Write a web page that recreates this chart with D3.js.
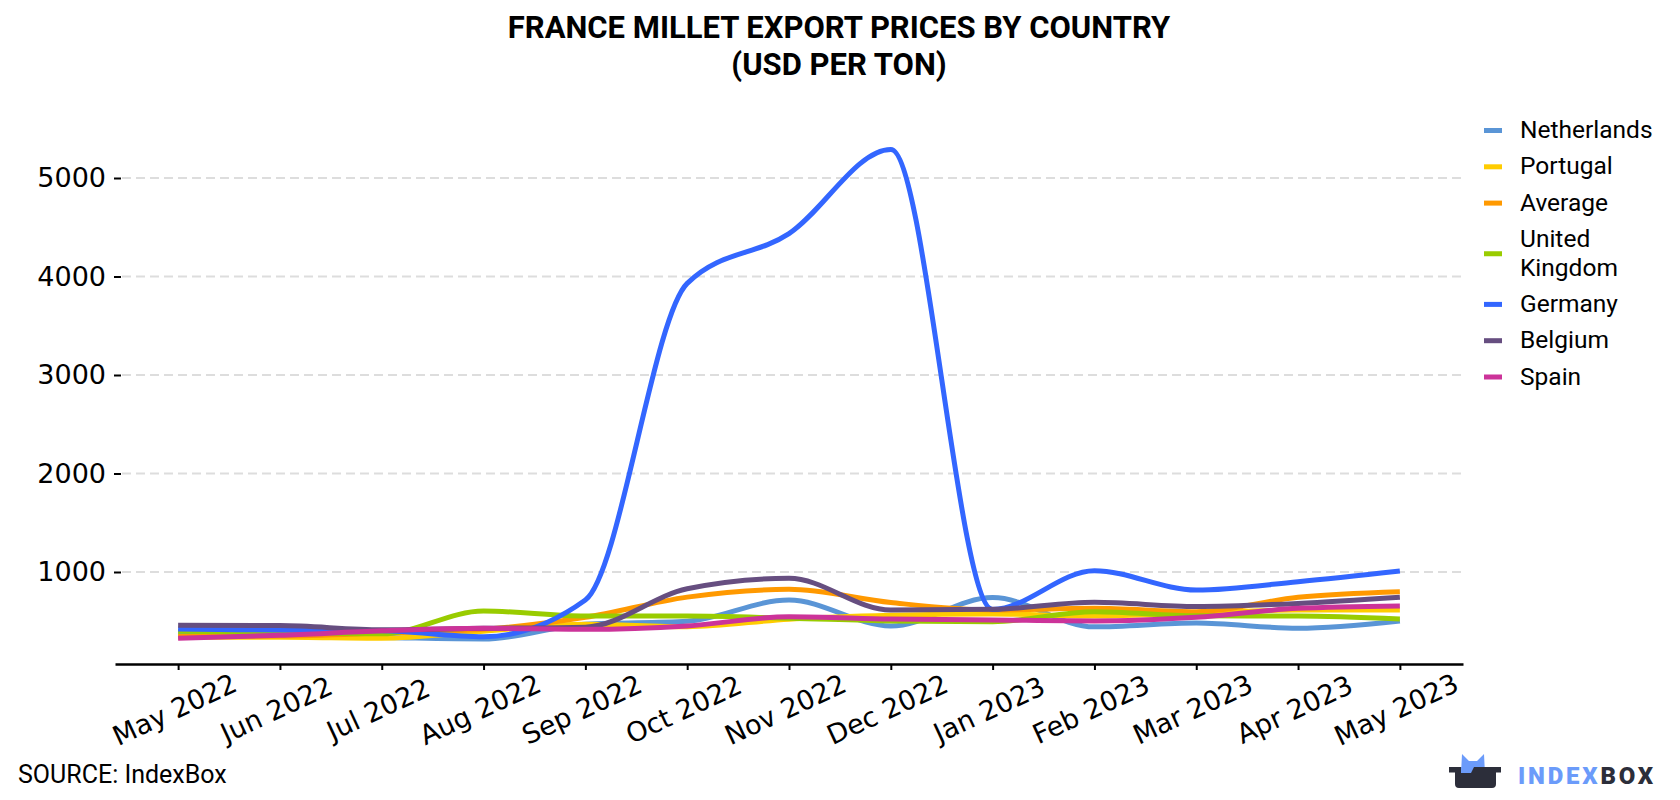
<!DOCTYPE html>
<html>
<head>
<meta charset="utf-8">
<script src="https://cdn.jsdelivr.net/npm/d3@7"></script>
<style>
  body { margin: 0; background: #fff; }
  svg { display: block; }
</style>
</head>
<body>
<svg id="chart" width="1680" height="800"></svg>
<script>
"use strict";

// months on the x axis
const months = ["May 2022", "Jun 2022", "Jul 2022", "Aug 2022", "Sep 2022", "Oct 2022",
  "Nov 2022", "Dec 2022", "Jan 2023", "Feb 2023", "Mar 2023", "Apr 2023", "May 2023"];

// USD per ton
const netherlands = [385, 350, 335, 320, 470, 500, 716, 452, 740, 443, 482, 429, 503];
const portugal    = [337, 337, 327, 398, 470, 445, 521, 560, 574, 553, 583, 614, 614];
const average     = [345, 350, 380, 418, 540, 745, 824, 690, 614, 631, 597, 743, 800];
const uk          = [398, 390, 372, 604, 553, 553, 531, 503, 496, 597, 555, 553, 523];
const germany     = [421, 411, 404, 343, 716, 3930, 4435, 5290, 620, 1013, 817, 902, 1010];
const belgium     = [459, 456, 414, 428, 440, 830, 936, 614, 621, 692, 650, 681, 743];
const spain       = [327, 357, 403, 428, 418, 452, 546, 523, 513, 503, 540, 631, 655];

const seriesNames = ["Netherlands", "Portugal", "Average", "United Kingdom", "Germany", "Belgium", "Spain"];
const seriesValues = [netherlands, portugal, average, uk, germany, belgium, spain];
const yTicks = [1000, 2000, 3000, 4000, 5000];

const palette = ["#5a95d6", "#ffcc00", "#ff9900", "#99cc00", "#3366ff", "#664e80", "#cc3399"];

const series = seriesNames.map((name, i) => ({ name: name, values: seriesValues[i], color: palette[i] }));

const svg = d3.select("#chart");

// scales
const xScale = d3.scalePoint()
    .domain(months)
    .range([115, 1463])
    .padding(0.62);

const yScale = d3.scaleLinear()
    .domain([0, 5000])
    .range([670.5, 178]);

const plotBottom = 664;

// title
const title = svg.append("text")
    .attr("x", 839)
    .attr("text-anchor", "middle")
    .style("font-family", "Roboto, sans-serif")
    .style("font-weight", "bold")
    .style("font-size", "31px")
    .style("fill", "#000");
title.append("tspan").attr("x", 839).attr("y", 38).text("FRANCE MILLET EXPORT PRICES BY COUNTRY");
title.append("tspan").attr("x", 839).attr("y", 75).text("(USD PER TON)");

// dashed grid
svg.append("g")
    .attr("class", "grid")
    .selectAll("line")
    .data(yTicks)
    .enter().append("line")
    .attr("x1", 122)
    .attr("x2", 1462)
    .attr("y1", d => yScale(d))
    .attr("y2", d => yScale(d))
    .attr("stroke", "#dddddd")
    .attr("stroke-width", 2)
    .attr("stroke-dasharray", "9,5");

// y axis (ticks and labels only)
const yAxis = svg.append("g")
    .attr("transform", "translate(121,0)")
    .call(d3.axisLeft(yScale).tickValues(yTicks).tickSize(7).tickPadding(8).tickFormat(d3.format("d")));
yAxis.select(".domain").remove();
yAxis.selectAll(".tick line").attr("stroke", "#000").attr("stroke-width", 2);
yAxis.selectAll(".tick text")
    .style("font-family", "'DejaVu Sans', sans-serif")
    .style("font-size", "27px")
    .attr("fill", "#000");

// x axis
const xAxis = svg.append("g")
    .attr("transform", "translate(0," + plotBottom + ")")
    .call(d3.axisBottom(xScale).tickSize(6).tickSizeOuter(0));
xAxis.select(".domain").attr("stroke", "#000").attr("stroke-width", 2.5);
xAxis.selectAll(".tick line").attr("stroke", "#000").attr("stroke-width", 2);
xAxis.selectAll(".tick text")
    .attr("y", 0)
    .attr("dy", 0)
    .attr("transform", "translate(0,54) rotate(-25)")
    .style("text-anchor", "middle")
    .style("font-family", "'DejaVu Sans', sans-serif")
    .style("font-size", "27px")
    .attr("fill", "#000");

// lines
const line = d3.line()
    .x((d, i) => xScale(months[i]))
    .y(d => yScale(d))
    .curve(d3.curveMonotoneX);

svg.append("g")
    .attr("class", "lines")
    .selectAll("path")
    .data(series)
    .enter().append("path")
    .attr("d", d => line(d.values))
    .attr("fill", "none")
    .attr("stroke", d => d.color)
    .attr("stroke-width", 5)
    .attr("stroke-linejoin", "round")
    .attr("stroke-linecap", "butt");

// legend, long names wrap onto two lines
const legend = svg.append("g").attr("class", "legend");
let cursorY = 129.5;
series.forEach(s => {
    const item = legend.append("g");
    const txt = item.append("text")
        .attr("x", 1520)
        .style("font-family", "Roboto, sans-serif")
        .style("font-size", "24.5px")
        .attr("fill", "#000");
    const words = s.name.split(" ");
    let lines = [words[0]];
    for (let k = 1; k < words.length; k++) {
        const trial = lines[lines.length - 1] + " " + words[k];
        txt.text(trial);
        if (txt.node().getComputedTextLength() > 150) lines.push(words[k]);
        else lines[lines.length - 1] = trial;
    }
    txt.text(null);
    lines.forEach((l, j) => {
        txt.append("tspan")
            .attr("x", 1520)
            .attr("y", cursorY + j * 28.7)
            .attr("dy", "0.35em")
            .text(l);
    });
    const mid = cursorY + (lines.length - 1) * 28.7 / 2 + 1;
    item.append("rect")
        .attr("x", 1484)
        .attr("y", mid - 2.5)
        .attr("width", 18)
        .attr("height", 5)
        .attr("fill", s.color);
    cursorY += 36.3 + (lines.length - 1) * 28.7;
});

// source
svg.append("text")
    .attr("x", 18)
    .attr("y", 783)
    .style("font-family", "Roboto, sans-serif")
    .style("font-size", "25px")
    .attr("fill", "#000")
    .text("SOURCE: IndexBox");

// logo
const logo = svg.append("g").attr("class", "logo");
logo.append("path")
    .attr("d", "M1461,774 L1462,754 L1469,761 L1477,761 L1484,754 L1485,774 Z")
    .attr("fill", "#6b9bfa");
logo.append("path")
    .attr("d", "M1449,767 L1501,767 L1501,772.5 L1496,772.5 L1496,784 Q1496,788 1492,788 L1459,788 Q1455,788 1455,784 L1455,772.5 L1449,772.5 Z")
    .attr("fill", "#2c2e3a");
logo.append("path")
    .attr("d", "M1461,767 L1474,767 L1471,773 L1461,773 Z")
    .attr("fill", "#6b9bfa");
const logoText = logo.append("text")
    .attr("x", 1518)
    .attr("y", 783.5)
    .style("font-family", "Roboto, sans-serif")
    .style("font-weight", "900")
    .style("font-size", "24px")
    .style("letter-spacing", "2.8px");
logoText.append("tspan").attr("fill", "#6b9bfa").text("INDEX");
logoText.append("tspan").attr("fill", "#2c2e3a").text("BOX");
</script>
</body>
</html>
